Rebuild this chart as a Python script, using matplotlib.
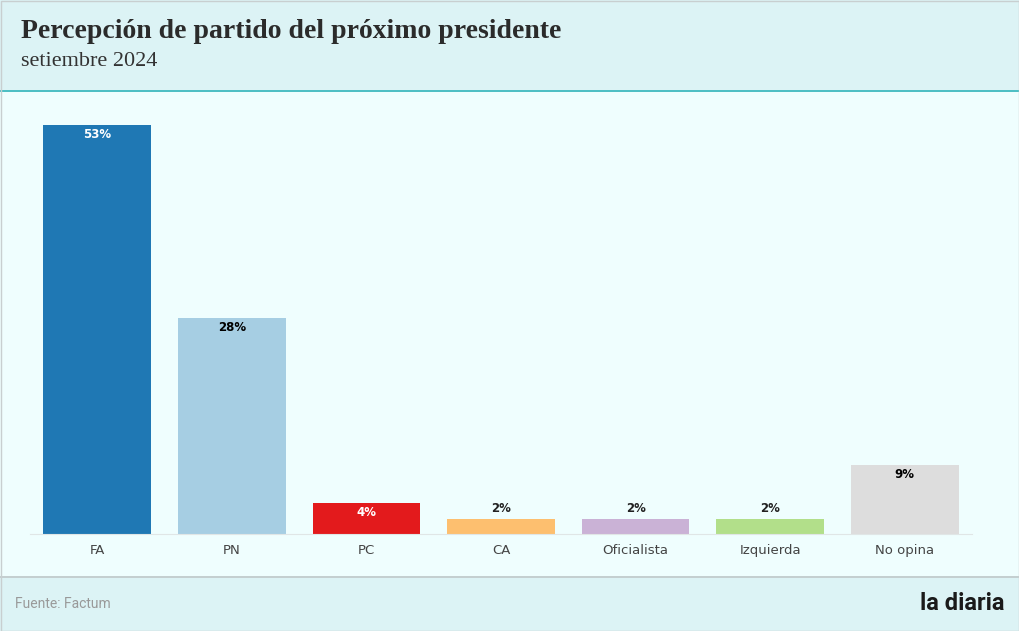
import matplotlib
matplotlib.use("Agg")
import matplotlib.pyplot as plt
from matplotlib.patches import Rectangle

# data
partidos = ["FA", "PN", "PC", "CA", "Oficialista", "Izquierda", "No opina"]
valores = [53, 28, 4, 2, 2, 2, 9]
colores = ["#1f78b4", "#a6cee3", "#e31a1c", "#fdbf6f", "#cab2d6", "#b2df8a", "#dddddd"]
etiquetas = ["53%", "28%", "4%", "2%", "2%", "2%", "9%"]

W, H = 1020, 631
fig = plt.figure(figsize=(W / 100, H / 100), dpi=100)
fig.patch.set_facecolor("#effefe")

# header and footer bands
fig.patches.append(Rectangle((0, (H - 90) / H), 1, 90 / H, transform=fig.transFigure,
                             facecolor="#dcf3f5", edgecolor="none", zorder=0))
fig.patches.append(Rectangle((0, (H - 92) / H), 1, 2.5 / H, transform=fig.transFigure,
                             facecolor="#4fbfc4", edgecolor="none", zorder=1))
fig.patches.append(Rectangle((0, 0), 1, 54 / H, transform=fig.transFigure,
                             facecolor="#dcf3f5", edgecolor="none", zorder=0))
fig.patches.append(Rectangle((0, 53.5 / H), 1, 1.2 / H, transform=fig.transFigure,
                             facecolor="#c4cfd0", edgecolor="none", zorder=1))
fig.patches.append(Rectangle((0.5 / W, 0.5 / H), 1 - 1.5 / W, 1 - 1.5 / H, transform=fig.transFigure,
                             facecolor="none", edgecolor="#c8cfd0", linewidth=1, zorder=2))

fig.text(21 / W, 1 - 31 / H, "Percepción de partido del próximo presidente",
         fontsize=20, fontweight="bold", family="Liberation Serif", color="#2b2b2b", va="center")
fig.text(21 / W, 1 - 62 / H, "setiembre 2024",
         fontsize=16, family="Liberation Serif", color="#333333", va="center")
fig.text(15 / W, 27 / H, "Fuente: Factum", fontsize=10, family="Roboto", color="#999999", va="center")
fig.text(1 - 15 / W, 27 / H, "la diaria", fontsize=17, fontweight="bold", family="Roboto",
         color="#1a1a1a", va="center", ha="right")

ax = fig.add_axes([30 / W, (H - 534) / H, 942 / W, 434 / H])
ax.set_facecolor("none")
x = range(len(partidos))
bars = ax.bar(x, valores, width=0.8, color=colores, zorder=2)
ax.set_xlim(-0.5, len(partidos) - 0.5)
ax.set_ylim(0, 434 / 7.72)

for i, (v, lab) in enumerate(zip(valores, etiquetas)):
    if v >= 4:
        col = "white" if i in (0, 2) else "black"
        ax.annotate(lab, (i, v), xytext=(0, -7), textcoords="offset points",
                    ha="center", va="center", fontsize=8.5, fontweight="bold", color=col)
    else:
        ax.annotate(lab, (i, v), xytext=(0, 7.5), textcoords="offset points",
                    ha="center", va="center", fontsize=8.5, fontweight="bold", color="#222222")

for s in ["top", "right", "left"]:
    ax.spines[s].set_visible(False)
ax.spines["bottom"].set_color("#e0e6e6")
ax.set_yticks([])
ax.set_xticks(list(x))
ax.set_xticklabels(partidos, fontsize=9.5, color="#444444")
ax.tick_params(axis="x", length=0, pad=7)

fig.savefig("out.png", dpi=100, facecolor=fig.get_facecolor())
